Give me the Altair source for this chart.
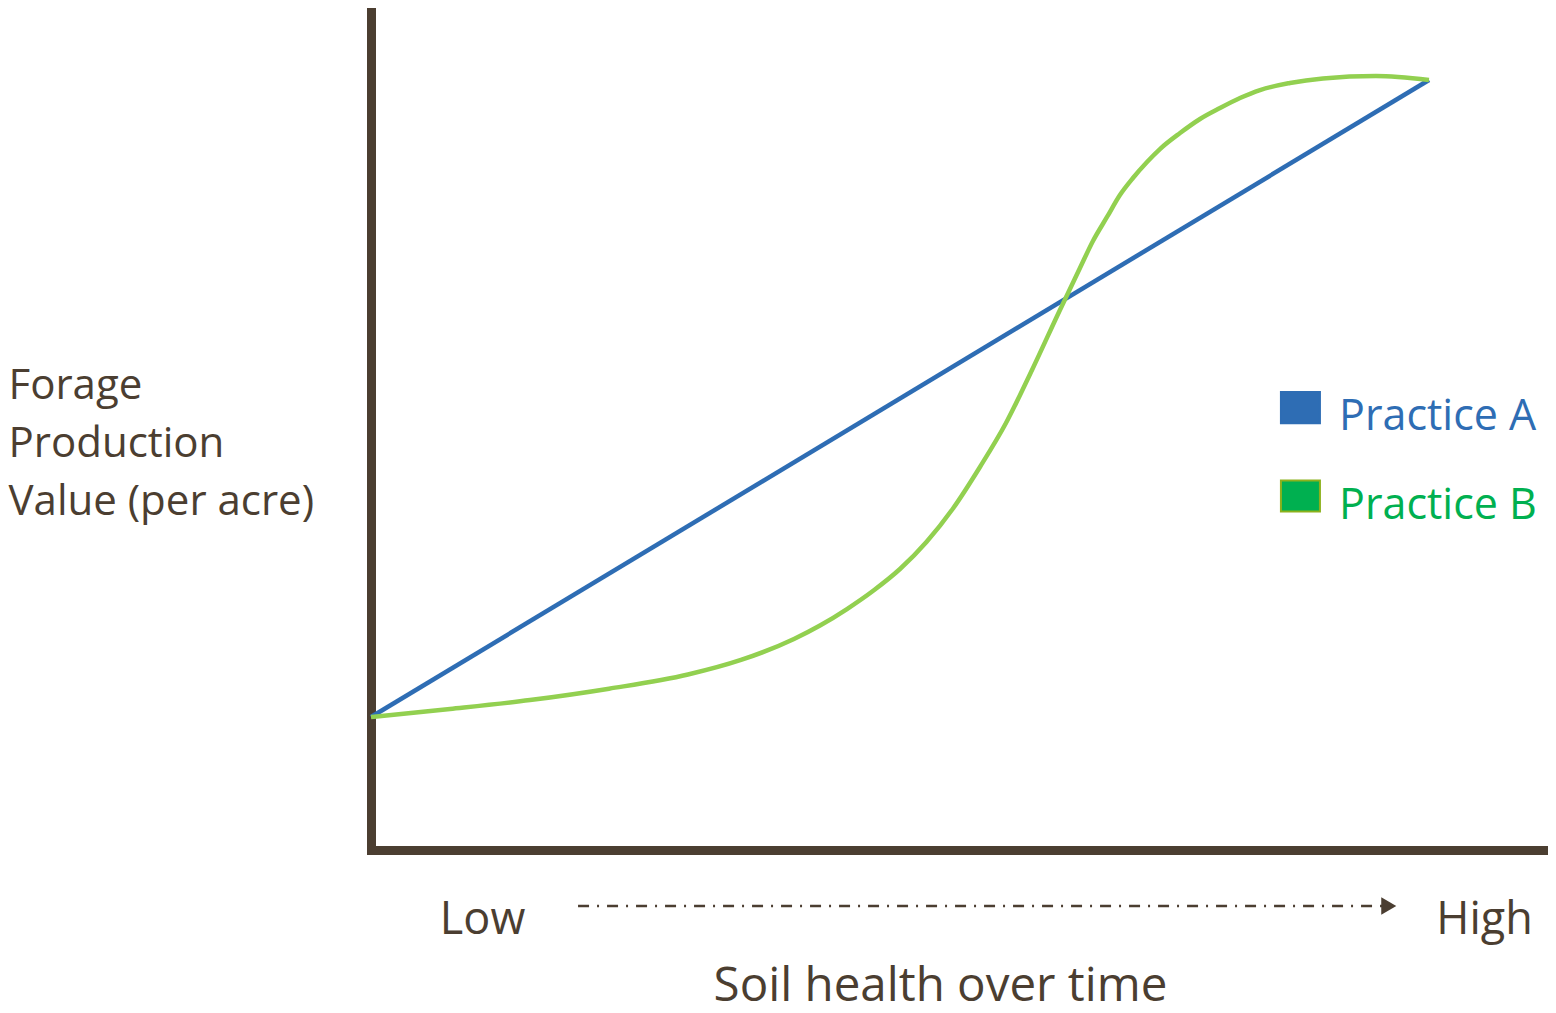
import altair as alt
import pandas as pd

# ---- data (soil health index vs. forage production value, arbitrary units) ----
practice_a_x = [0, 10]
practice_a_y = [15.8, 91.45]

practice_b_x = [0.000, 0.747, 1.503, 2.250, 2.996, 3.497, 3.998, 4.244, 4.499,
                4.750, 5.000, 5.250, 5.501, 5.756, 6.002, 6.248, 6.503, 6.701,
                6.824, 6.957, 7.079, 7.202, 7.335, 7.457, 7.647, 7.836, 8.025,
                8.214, 8.403, 8.686, 8.998, 9.499, 10.000]
practice_b_y = [15.80, 16.75, 17.81, 19.16, 20.84, 22.57, 25.06, 26.66, 28.62,
                30.82, 33.37, 36.58, 40.56, 45.49, 50.71, 57.01, 63.90, 69.12,
                72.33, 75.18, 77.79, 79.81, 81.71, 83.25, 85.15, 86.82, 88.12,
                89.31, 90.26, 91.09, 91.63, 91.92, 91.45]

series_names = ["Practice A", "Practice B"]
line_colors = ["#2E6DB4", "#92D050"]
legend_fill = ["#2E6DB4", "#00B050"]
legend_stroke = ["#2E6DB4", "#8CB11C"]
legend_text_color = ["#2E6DB4", "#00B050"]

# legend anchor (data units)
legend_sym_x = [8.785, 8.785]
legend_sym_y = [52.55, 42.04]
legend_txt_x = [9.15, 9.15]
legend_txt_y = [49.9, 39.3]

# x-axis Low -> High annotation
axis_label_vals = [1.05, 10.52]
axis_label_text = ["Low", "High"]
arrow_x = [1.957]
arrow_x2 = [9.575]
arrow_y = [-6.65]
arrow_head_x = [9.62]

FONT = "Open Sans"
BROWN = "#4B3E31"

X_DOMAIN = [0, 11.125]
Y_DOMAIN = [0, 100]

# ---- tables ----
lines_df = pd.concat([
    pd.DataFrame({"x": practice_a_x, "y": practice_a_y, "series": series_names[0]}),
    pd.DataFrame({"x": practice_b_x, "y": practice_b_y, "series": series_names[1]}),
])
legend_df = pd.DataFrame({
    "series": series_names,
    "sx": legend_sym_x, "sy": legend_sym_y,
    "tx": legend_txt_x, "ty": legend_txt_y,
    "fill": legend_fill, "stroke": legend_stroke, "tcolor": legend_text_color,
})
arrow_df = pd.DataFrame({"x": arrow_x, "x2": arrow_x2, "y": arrow_y, "hx": arrow_head_x})

label_expr = "datum.value < 5 ? '%s' : '%s'" % tuple(axis_label_text)

xscale = alt.Scale(domain=X_DOMAIN, nice=False, zero=False)
yscale = alt.Scale(domain=Y_DOMAIN, nice=False, zero=False)

x_axis = alt.Axis(
    values=axis_label_vals, labelExpr=label_expr, ticks=False, grid=False,
    domainColor=BROWN, domainWidth=9, domainCap="square",
    labelFont=FONT, labelFontSize=45, labelColor=BROWN, labelPadding=83,
    labelBaseline="alphabetic", labelFlush=False, labelOverlap=False,
    title="Soil health over time", titleFont=FONT, titleFontSize=47.5,
    titleFontWeight="normal", titleColor=BROWN, titleX=569, titleY=150,
    titleAlign="center", titleBaseline="alphabetic",
)
y_axis = alt.Axis(
    ticks=False, labels=False, grid=False,
    domainColor=BROWN, domainWidth=9, domainCap="square",
    title=["Forage", "Production", "Value (per acre)"], titleFont=FONT,
    titleFontSize=42, titleFontWeight="normal", titleColor=BROWN,
    titleAngle=0, titleAlign="left", titleBaseline="alphabetic",
    titleX=-363, titleY=390, titleLineHeight=58,
)

lines = alt.Chart(lines_df).mark_line(strokeWidth=4.5, interpolate="monotone").encode(
    x=alt.X("x:Q", scale=xscale, axis=x_axis),
    y=alt.Y("y:Q", scale=yscale, axis=y_axis),
    color=alt.Color("series:N", scale=alt.Scale(domain=series_names, range=line_colors), legend=None),
    order=alt.Order("x:Q"),
)

legend_sym = alt.Chart(legend_df).mark_point(
    shape="M-1,-0.8H1V0.8H-1Z", size=1521, filled=True, strokeWidth=2, opacity=1
).encode(
    x=alt.X("sx:Q", scale=xscale),
    y=alt.Y("sy:Q", scale=yscale),
    fill=alt.Fill("fill:N", scale=None),
    stroke=alt.Stroke("stroke:N", scale=None),
)

legend_txt = alt.Chart(legend_df).mark_text(
    font=FONT, fontSize=43, align="left", baseline="alphabetic"
).encode(
    x=alt.X("tx:Q", scale=xscale),
    y=alt.Y("ty:Q", scale=yscale),
    text="series:N",
    color=alt.Color("tcolor:N", scale=None),
)

arrow_line = alt.Chart(arrow_df).mark_rule(
    color=BROWN, strokeWidth=2.5, strokeDash=[11, 8, 2, 8]
).encode(
    x=alt.X("x:Q", scale=xscale),
    x2="x2:Q",
    y=alt.Y("y:Q", scale=yscale),
)

arrow_head = alt.Chart(arrow_df).mark_point(
    shape="triangle-right", size=300, filled=True, color=BROWN, opacity=1
).encode(
    x=alt.X("hx:Q", scale=xscale),
    y=alt.Y("y:Q", scale=yscale),
)

chart = alt.layer(lines, legend_sym, legend_txt, arrow_line, arrow_head).properties(
    width=1177, height=842,
    autosize=alt.AutoSizeParams(type="none"),
    padding={"left": 363, "top": 0, "right": 0, "bottom": 155},
).configure(background="white").configure_view(stroke=None, strokeWidth=0)

chart.save("out.html", embed_options={"renderer": "svg", "actions": False})
